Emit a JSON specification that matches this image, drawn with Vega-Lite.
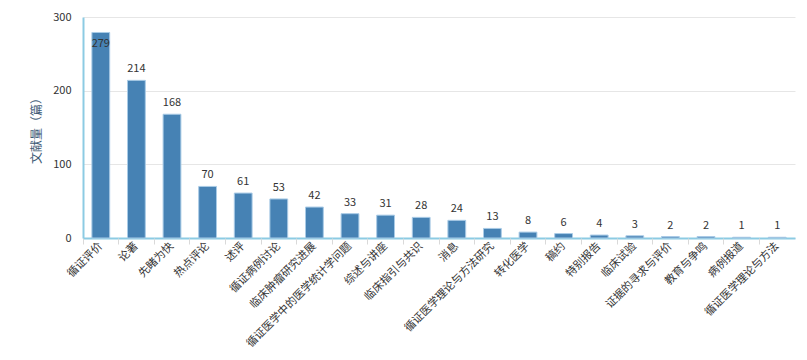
{
  "$schema": "https://vega.github.io/schema/vega-lite/v6.json",
  "width": 712,
  "height": 221,
  "autosize": {"type": "none"},
  "padding": {"left": 83, "top": 17, "right": 12, "bottom": 122},
  "background": "white",
  "config": {
    "view": {"stroke": null},
    "font": "Noto Sans CJK SC"
  },
  "data": {
    "values": [
      {"category": "循证评价", "count": 279},
      {"category": "论著", "count": 214},
      {"category": "先睹为快", "count": 168},
      {"category": "热点评论", "count": 70},
      {"category": "述评", "count": 61},
      {"category": "循证病例讨论", "count": 53},
      {"category": "临床肿瘤研究进展", "count": 42},
      {"category": "循证医学中的医学统计学问题", "count": 33},
      {"category": "综述与讲座", "count": 31},
      {"category": "临床指引与共识", "count": 28},
      {"category": "消息", "count": 24},
      {"category": "循证医学理论与方法研究", "count": 13},
      {"category": "转化医学", "count": 8},
      {"category": "稿约", "count": 6},
      {"category": "特别报告", "count": 4},
      {"category": "临床试验", "count": 3},
      {"category": "证据的寻求与评价", "count": 2},
      {"category": "教育与争鸣", "count": 2},
      {"category": "病例报道", "count": 1},
      {"category": "循证医学理论与方法", "count": 1}
    ]
  },
  "encoding": {
    "x": {
      "field": "category",
      "type": "nominal",
      "sort": null,
      "scale": {"paddingInner": 0, "paddingOuter": 0}
    },
    "y": {
      "field": "count",
      "type": "quantitative",
      "scale": {"domain": [0, 300], "nice": false},
      "axis": {
        "values": [0, 100, 200, 300],
        "title": "文献量（篇）",
        "titleFont": "Noto Sans CJK SC",
        "titleFontSize": 12,
        "titleFontWeight": "normal",
        "titleColor": "#3d5a75",
        "titlePadding": 9,
        "labelFontSize": 11,
        "labelColor": "#333333",
        "labelPadding": 12,
        "ticks": false,
        "domainColor": "#8ccbe3",
        "domainWidth": 2,
        "gridColor": "#e6e6e6",
        "gridWidth": 1
      }
    }
  },
  "layer": [
    {
      "mark": {"type": "bar", "width": {"band": 0.5}, "color": "#4682b4", "stroke": "#a9cbe6", "strokeWidth": 1},
      "encoding": {
        "x": {
          "field": "category",
          "type": "nominal",
          "sort": null,
          "axis": {
            "title": null,
            "labelAngle": -45,
            "labelAlign": "right",
            "labelBaseline": "middle",
            "labelFontSize": 11,
            "labelColor": "#333333",
            "labelPadding": 6,
            "labelOverlap": false,
            "labelLimit": 300,
            "ticks": false,
            "domainColor": "#8ccbe3",
            "domainWidth": 2,
            "grid": false
          }
        }
      }
    },
    {
      "transform": [{"filter": "datum.count <= 250"}],
      "mark": {"type": "text", "baseline": "bottom", "dy": -6, "fontSize": 11, "color": "#333333"},
      "encoding": {
        "x": {
          "field": "category",
          "type": "nominal",
          "sort": null,
          "axis": {
            "orient": "bottom",
            "title": null,
            "labels": false,
            "bandPosition": 0,
            "ticks": true,
            "tickColor": "#d9d9d9",
            "tickSize": 6,
            "domain": false,
            "grid": false
          }
        },
        "text": {"field": "count", "type": "quantitative"}
      }
    },
    {
      "transform": [{"filter": "datum.count > 250"}],
      "mark": {"type": "text", "baseline": "top", "dy": 6, "fontSize": 11, "color": "#333333"},
      "encoding": {
        "x": {"field": "category", "type": "nominal", "sort": null, "axis": null},
        "text": {"field": "count", "type": "quantitative"}
      }
    }
  ],
  "resolve": {"axis": {"x": "independent"}}
}
